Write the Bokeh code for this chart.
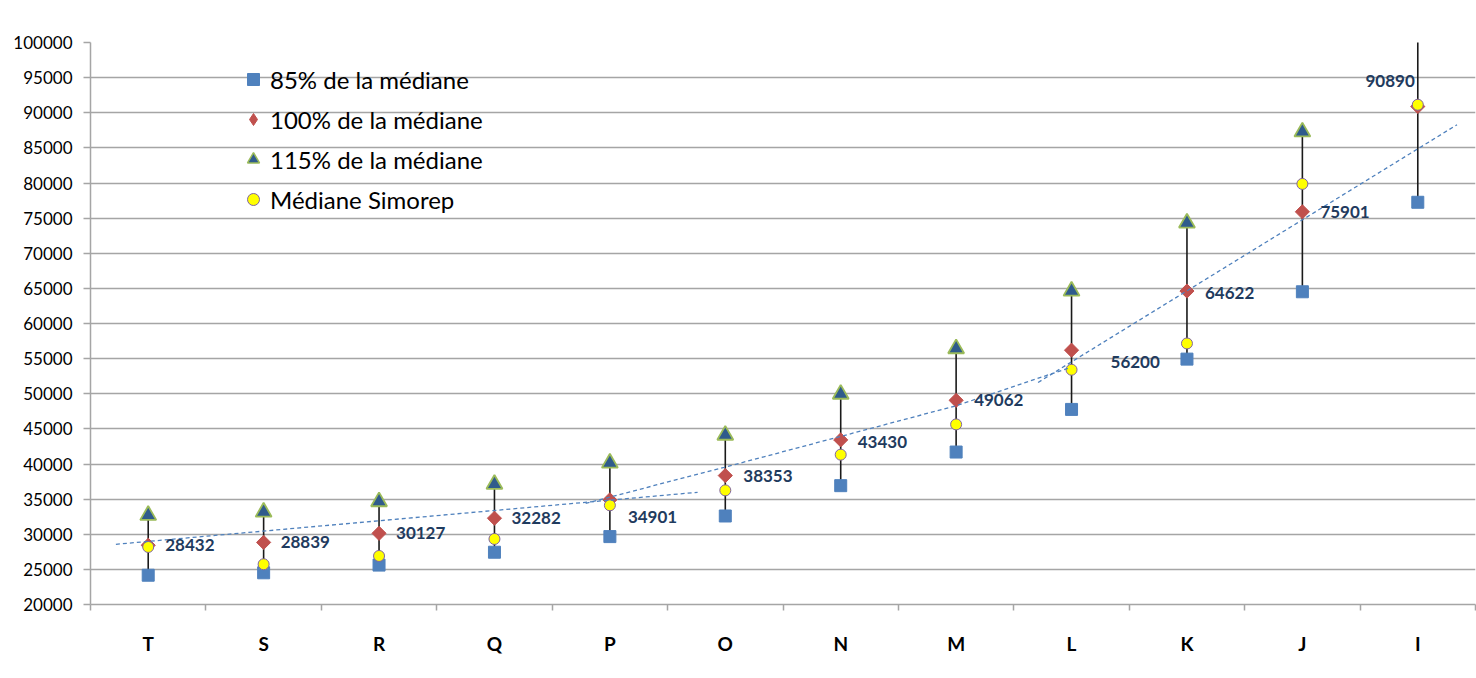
import numpy as np
from bokeh.plotting import figure
from bokeh.models import (ColumnDataSource, FixedTicker, Range1d, Legend, LegendItem,
                          NumeralTickFormatter)
from bokeh.core.properties import value
from bokeh.embed import file_html
from bokeh.resources import INLINE

# ---------------- data ----------------
categories = ["T", "S", "R", "Q", "P", "O", "N", "M", "L", "K", "J", "I"]
median_100 = [28432, 28839, 30127, 32282, 34901, 38353, 43430, 49062, 56200, 64622, 75901, 90890]
median_85 = [24167, 24513, 25608, 27440, 29666, 32600, 36916, 41703, 47770, 54929, 64516, 77257]
median_115 = [32697, 33165, 34646, 37124, 40136, 44106, 49945, 56421, 64630, 74315, 87286, 104524]
simorep = [28190, 25730, 26910, 29330, 34120, 36250, 41330, 45640, 53420, 57160, 79870, 91140]
y_ticks = list(range(20000, 100001, 5000))

# dashed trend lines (category index, value)
trend1_x = [-0.28, 4.76]
trend1_y = [28570, 35970]
trend2_x = [3.79, 4.99, 6.0, 7.01, 7.99]
trend2_y = [34400, 39520, 43930, 48340, 53740]
trend3_x = [7.71, 11.34]
trend3_y = [51610, 88300]

# ---------------- styling ----------------
FONT = "Lato"
label_dx = [17, 17, 17, 17, 18, 18, 17, 18, 39, 18, 18, -3]
label_dy = [0, 0, 0, 0, 17, 0, 2, 0, 12, 2, 0, -25]
label_align = ["left"] * 11 + ["right"]

BLUE, RED, TRI_FILL, TRI_LINE = "#4F81BD", "#C0504D", "#2F5B8C", "#9BBB59"
YELLOW, PURPLE = "#FFFF00", "#8064A2"

x = list(range(len(categories)))

p = figure(width=1476, height=678,
           x_range=Range1d(-0.5, len(categories) - 0.5),
           y_range=Range1d(20000, 100000),
           output_backend="svg", toolbar_location=None,
           min_border_left=90, min_border_right=1,
           min_border_top=42, min_border_bottom=74)
p.outline_line_color = None
p.background_fill_color = "white"
p.border_fill_color = "white"

# axes
p.xaxis.ticker = FixedTicker(ticks=x, minor_ticks=[i - 0.5 for i in range(len(categories) + 1)])
p.xaxis.major_label_overrides = {i: c for i, c in enumerate(categories)}
p.xaxis.major_tick_out = 0
p.xaxis.major_tick_in = 0
p.xaxis.minor_tick_out = 6
p.xaxis.minor_tick_in = 0
p.xaxis.minor_tick_line_color = "#a5a5a5"
p.xaxis.minor_tick_line_width = 1.5
p.xaxis.axis_line_color = "#a5a5a5"
p.xaxis.axis_line_width = 1.5
p.xaxis.major_label_standoff = 21
p.xaxis.major_label_text_font = FONT
p.xaxis.major_label_text_font_style = "bold"
p.xaxis.major_label_text_font_size = "19px"
p.xaxis.major_label_text_color = "black"

p.yaxis.ticker = FixedTicker(ticks=y_ticks)
p.yaxis.formatter = NumeralTickFormatter(format="0")
p.yaxis.major_tick_out = 7
p.yaxis.major_tick_in = 0
p.yaxis.minor_tick_line_color = None
p.yaxis.major_tick_line_color = "#a5a5a5"
p.yaxis.major_tick_line_width = 1.5
p.yaxis.axis_line_color = "#a5a5a5"
p.yaxis.axis_line_width = 1.5
p.yaxis.major_label_standoff = 11
p.yaxis.major_label_text_font = FONT
p.yaxis.major_label_text_font_size = "17px"
p.yaxis.major_label_text_color = "black"

p.xgrid.grid_line_color = None
p.ygrid.ticker = FixedTicker(ticks=y_ticks)
p.ygrid.grid_line_color = "#a5a5a5"
p.ygrid.grid_line_width = 1.5

# high-low lines
p.segment(x0=x, y0=median_85, x1=x, y1=median_115, line_color="#1a1a1a", line_width=1.6)

# markers
r85 = p.scatter(x, median_85, marker="square", size=12, fill_color=BLUE, line_color=BLUE)
r100 = p.scatter(x, median_100, marker="square", angle=np.pi / 4, size=10,
                 fill_color=RED, line_color=RED)
r115 = p.scatter(x, median_115, marker="triangle", size=16,
                 fill_color=TRI_FILL, line_color=TRI_LINE, line_width=1.8)
rsim = p.scatter(x, simorep, marker="circle", size=11,
                 fill_color=YELLOW, line_color=PURPLE, line_width=1)

# legend-only glyphs (legend does not rotate markers); a single NaN point draws nothing
nan = [float("nan")]
leg100 = p.scatter(x=nan, y=nan, marker="diamond", size=10, fill_color=RED, line_color=RED)
leg115 = p.scatter(x=nan, y=nan, marker="triangle", size=10,
                   fill_color=TRI_FILL, line_color=TRI_LINE, line_width=1.5)

# trend lines
for tx, ty in ((trend1_x, trend1_y), (trend2_x, trend2_y), (trend3_x, trend3_y)):
    p.line(tx, ty, line_color=BLUE, line_width=1.3, line_dash="4 3")

# value labels
src = ColumnDataSource(dict(x=x, y=median_100, text=[str(v) for v in median_100],
                            dx=label_dx, dy=label_dy, align=label_align))
p.text(x="x", y="y", text="text", x_offset="dx", y_offset="dy", text_align="align",
       source=src, text_baseline="middle", text_font=value(FONT), text_font_style="bold",
       text_font_size="17px", text_color="#1F3B5E")

legend = Legend(items=[
    LegendItem(label="85% de la médiane", renderers=[r85]),
    LegendItem(label="100% de la médiane", renderers=[leg100]),
    LegendItem(label="115% de la médiane", renderers=[leg115]),
    LegendItem(label="Médiane Simorep", renderers=[rsim]),
], location=(148, 390))
legend.glyph_width = 30
legend.glyph_height = 30
legend.label_height = 30
legend.spacing = 10
legend.padding = 0
legend.margin = 0
legend.label_standoff = 2
legend.label_text_font = FONT
legend.label_text_font_size = "24px"
legend.label_text_color = "black"
legend.background_fill_alpha = 0
legend.border_line_color = None
p.add_layout(legend, "center")

open("out.html", "w").write(file_html(p, INLINE))
